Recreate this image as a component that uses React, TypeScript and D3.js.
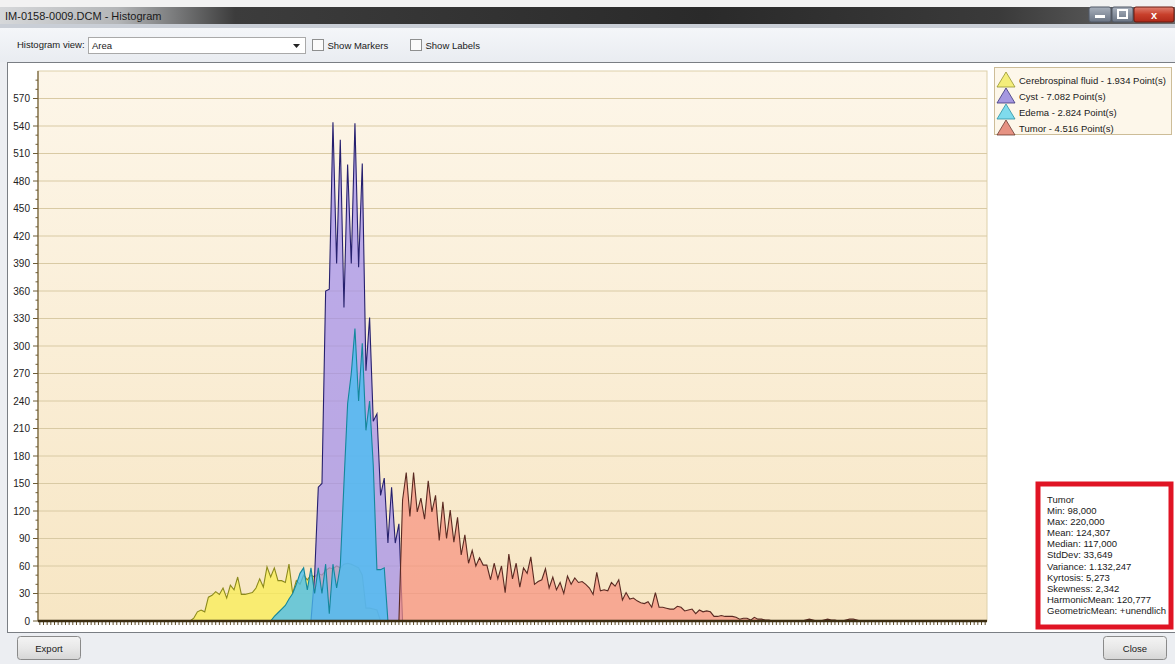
import React from "react";
import * as d3 from "d3";

// ---------- DATA ----------
const yTickValues = [0, 30, 60, 90, 120, 150, 180, 210, 240, 270, 300, 330, 360, 390, 420, 450, 480, 510, 540, 570];
const binCount = 259;

const csfStart = 41;
const csfValues = [0, 3, 10, 12, 10, 26, 28, 32, 29, 36, 25, 39, 34, 48, 29, 29, 30, 31, 36, 46, 37, 59, 48, 58, 44, 44, 42, 62, 30, 44, 40, 50, 45, 50, 48, 52, 50, 55, 58, 57, 60, 58, 62, 63, 62, 60, 58, 50, 14, 14, 13, 12, 0];

const cystStart = 74;
const cystValues = [0, 50, 146, 150, 360, 362, 544, 390, 525, 342, 498, 390, 543, 386, 499, 273, 331, 218, 226, 137, 156, 85, 146, 85, 106, 0];

const edemaStart = 63;
const edemaValues = [0, 5, 9, 13, 17, 24, 30, 40, 52, 58, 34, 58, 30, 58, 30, 62, 8, 62, 36, 60, 150, 237, 270, 319, 240, 303, 208, 240, 170, 56, 56, 58, 0];

const tumorStart = 98;
const tumorValues = [0, 132, 162, 114, 162, 119, 134, 111, 153, 119, 137, 88, 130, 90, 121, 86, 113, 72, 94, 63, 77, 60, 69, 61, 61, 45, 63, 46, 60, 31, 73, 46, 63, 37, 58, 52, 70, 40, 43, 45, 57, 36, 48, 34, 42, 30, 49, 40, 47, 42, 43, 40, 36, 29, 53, 33, 34, 33, 42, 38, 45, 23, 31, 24, 25, 22, 20, 19, 21, 15, 31, 15, 15, 14, 13, 13, 16, 15, 11, 12, 13, 8, 12, 10, 11, 10, 5, 5, 6, 5, 5, 5, 4, 2, 3, 3, 1, 4, 2, 2, 1, 1, 0, 0, 0, 0, 0, 0, 0, 0, 0, 1, 2, 1, 0, 0, 1, 2, 1, 1, 0, 0, 1, 2, 2, 1, 0];

const seriesNames = ["Cerebrospinal fluid", "Cyst", "Edema", "Tumor"];
const seriesPointCounts = ["1.934", "7.082", "2.824", "4.516"];

const statsTitle = "Tumor";
const statsLines = [
  "Min: 98,000",
  "Max: 220,000",
  "Mean: 124,307",
  "Median: 117,000",
  "StdDev: 33,649",
  "Variance: 1.132,247",
  "Kyrtosis: 5,273",
  "Skewness: 2,342",
  "HarmonicMean: 120,777",
  "GeometricMean: +unendlich",
];

const windowTitle = "IM-0158-0009.DCM - Histogram";
const viewLabel = "Histogram view:";
const viewValue = "Area";
const checkLabels = ["Show Markers", "Show Labels"];

// ---------- COMPONENT ----------
const FONT = "'Liberation Sans', Arial, sans-serif";

export default function App() {
  const W = 1175;
  const H = 664;
  const plot = { left: 38, top: 71, right: 987, bottom: 621 };

  const x = d3.scaleLinear().domain([-0.5, binCount - 0.5]).range([plot.left, plot.right]);
  const y = d3.scaleLinear().domain([0, 600]).range([plot.bottom, plot.top]);

  const styles = [
    { fill: "rgba(250,238,80,0.72)", stroke: "#8c8a1c", icon: "#f4ee70" },
    { fill: "rgba(160,140,236,0.70)", stroke: "#26206e", icon: "#9c8ee0" },
    { fill: "rgba(72,190,242,0.78)", stroke: "#14879c", icon: "#72d8ee" },
    { fill: "rgba(246,146,128,0.72)", stroke: "#5a2a22", icon: "#e48878" },
  ];
  const starts = [csfStart, cystStart, edemaStart, tumorStart];
  const values = [csfValues, cystValues, edemaValues, tumorValues];

  const area = d3
    .area<[number, number]>()
    .x((d) => x(d[0]))
    .y0(y(0))
    .y1((d) => y(d[1]));
  const line = d3
    .line<[number, number]>()
    .x((d) => x(d[0]))
    .y((d) => y(d[1]));

  const series = values.map((vals, i) => {
    const pts: [number, number][] = vals.map((v, j) => [starts[i] + j, v]);
    return { pts, ...styles[i], name: seriesNames[i], count: seriesPointCounts[i] };
  });

  const minorTicks = d3.range(0, 600, 10).filter((v) => v % 30 !== 0);
  const xTicks = d3.range(0, binCount);

  return (
    <svg
      width={W}
      height={H}
      style={{ position: "absolute", left: 0, top: 0, fontFamily: FONT }}
    >
      <defs>
        <linearGradient id="titleGrad" x1="0" x2="1" y1="0" y2="0">
          <stop offset="0" stopColor="#d6d8da" />
          <stop offset="0.1" stopColor="#b4b6b8" />
          <stop offset="0.2" stopColor="#3c3c3c" />
          <stop offset="0.6" stopColor="#2a2a2a" />
          <stop offset="0.85" stopColor="#3a3a3a" />
          <stop offset="1" stopColor="#6a6a6a" />
        </linearGradient>
        <linearGradient id="toolGrad" x1="0" x2="0" y1="0" y2="1">
          <stop offset="0" stopColor="#f4f6f9" />
          <stop offset="1" stopColor="#e9ecf1" />
        </linearGradient>
        <linearGradient id="plotBg" x1="0" x2="0" y1="0" y2="1">
          <stop offset="0" stopColor="#fdf6e9" />
          <stop offset="1" stopColor="#f7e6c4" />
        </linearGradient>
        <linearGradient id="btnGrad" x1="0" x2="0" y1="0" y2="1">
          <stop offset="0" stopColor="#f4f4f4" />
          <stop offset="0.5" stopColor="#e8e8e8" />
          <stop offset="1" stopColor="#d6d6d6" />
        </linearGradient>
        <linearGradient id="closeGrad" x1="0" x2="0" y1="0" y2="1">
          <stop offset="0" stopColor="#e08070" />
          <stop offset="0.5" stopColor="#c8402c" />
          <stop offset="1" stopColor="#b02818" />
        </linearGradient>
        <linearGradient id="wbtnGrad" x1="0" x2="0" y1="0" y2="1">
          <stop offset="0" stopColor="#a8b0bc" />
          <stop offset="1" stopColor="#6a7484" />
        </linearGradient>
      </defs>

      {/* window background */}
      <rect x={0} y={0} width={W} height={H} fill="#eceef2" />
      <rect x={0} y={0} width={W} height={7} fill="#f2f2f2" />
      {/* title bar */}
      <rect x={0} y={7} width={W} height={17} fill="url(#titleGrad)" />
      <rect x={0} y={24} width={W} height={4} fill="#c9ced6" />
      <text x={5} y={20} fontSize={11} fill="#1a1a1a" fontFamily={FONT}>
        {windowTitle}
      </text>
      {/* window buttons */}
      <rect x={1089} y={7} width={22} height={15} rx={2} fill="url(#wbtnGrad)" stroke="#505866" />
      <rect x={1095} y={15} width={10} height={3} fill="#fff" />
      <rect x={1112} y={7} width={21} height={15} rx={2} fill="url(#wbtnGrad)" stroke="#505866" />
      <rect x={1118} y={10} width={9} height={8} fill="none" stroke="#fff" strokeWidth={2} />
      <rect x={1134} y={7} width={40} height={15} rx={2} fill="url(#closeGrad)" stroke="#6a1a10" />
      <text x={1154} y={19} fontSize={11} fontWeight="bold" fill="#fff" textAnchor="middle">x</text>

      {/* toolbar */}
      <rect x={0} y={28} width={W} height={34} fill="url(#toolGrad)" />
      <text x={17} y={48} fontSize={9.5} fill="#1a1a1a">{viewLabel}</text>
      <rect x={88.5} y={37.5} width={217} height={16} fill="#fff" stroke="#a9a9a9" />
      <text x={92} y={48.5} fontSize={9.5} fill="#1a1a1a">{viewValue}</text>
      <path d="M293,44 L300,44 L296.5,48 Z" fill="#222" />
      {checkLabels.map((t, i) => {
        const cx = i === 0 ? 312.5 : 410.5;
        return (
          <g key={t}>
            <rect x={cx} y={39.5} width={11} height={11} fill="#fbfbfb" stroke="#8e8f8f" />
            <text x={cx + 15} y={48.5} fontSize={9.5} fill="#1a1a1a">{t}</text>
          </g>
        );
      })}

      {/* chart panel */}
      <rect x={7.5} y={62.5} width={1168} height={570} fill="#ffffff" stroke="#7a7e84" />

      {/* plot area */}
      <rect
        x={plot.left}
        y={plot.top}
        width={plot.right - plot.left}
        height={plot.bottom - plot.top}
        fill="url(#plotBg)"
        stroke="#ddd0aa"
      />
      {yTickValues.map((v) =>
        v === 0 ? null : (
          <line key={"g" + v} x1={plot.left} x2={plot.right} y1={y(v)} y2={y(v)} stroke="#d9caa4" strokeWidth={1} />
        )
      )}

      {/* series */}
      {series.map((s) => (
        <g key={s.name}>
          <path d={area(s.pts) || ""} fill={s.fill} />
          <path d={line(s.pts) || ""} fill="none" stroke={s.stroke} strokeWidth={1.1} strokeLinejoin="miter" />
        </g>
      ))}

      {/* y axis */}
      <line x1={plot.left} x2={plot.left} y1={plot.top} y2={plot.bottom} stroke="#6e5c34" strokeWidth={1.2} />
      {minorTicks.map((v) => (
        <line key={"m" + v} x1={plot.left - 2.5} x2={plot.left} y1={y(v)} y2={y(v)} stroke="#6e5c34" />
      ))}
      {yTickValues.map((v) => (
        <g key={"t" + v}>
          <line x1={plot.left - 5} x2={plot.left} y1={y(v)} y2={y(v)} stroke="#6e5c34" />
          <text x={plot.left - 8} y={y(v) + 3.5} fontSize={10} textAnchor="end" fill="#222">
            {v}
          </text>
        </g>
      ))}

      {/* x axis */}
      {xTicks.map((k) => (
        <line key={"x" + k} x1={x(k)} x2={x(k)} y1={plot.bottom} y2={plot.bottom + 4} stroke="#5e4c28" strokeWidth={1} />
      ))}
      <line x1={plot.left} x2={plot.right} y1={plot.bottom} y2={plot.bottom} stroke="#3a2c10" strokeWidth={2.5} />

      {/* legend */}
      <rect x={994.5} y={67.5} width={177} height={67} fill="#fdf7ea" stroke="#cdbd98" />
      {series.map((s, i) => {
        const cy = 80 + i * 16;
        return (
          <g key={"l" + s.name}>
            <path
              d={`M997,${cy + 7} L1006,${cy - 8} L1015,${cy + 7} Z`}
              fill={s.icon}
              stroke={s.stroke}
              strokeWidth={0.8}
              opacity={0.9}
            />
            <text x={1019} y={cy + 3.5} fontSize={9.5} fill="#1a1a1a">
              {`${s.name} - ${s.count} Point(s)`}
            </text>
          </g>
        );
      })}

      {/* stats box */}
      <rect x={1038} y={484} width={133} height={143} fill="#ffffff" stroke="#e01424" strokeWidth={5} />
      <text x={1047} y={503} fontSize={9.5} fill="#1a1a1a">{statsTitle}</text>
      {statsLines.map((t, i) => (
        <text key={t} x={1047} y={514 + i * 11.1} fontSize={9.5} fill="#1a1a1a">
          {t}
        </text>
      ))}

      {/* bottom bar */}
      <rect x={17.5} y={636.5} width={63} height={23} rx={3} fill="url(#btnGrad)" stroke="#8a8a8a" />
      <text x={49} y={651.5} fontSize={9.5} textAnchor="middle" fill="#1a1a1a">Export</text>
      <rect x={1103.5} y={636.5} width={63} height={23} rx={3} fill="url(#btnGrad)" stroke="#8a8a8a" />
      <text x={1135} y={651.5} fontSize={9.5} textAnchor="middle" fill="#1a1a1a">Close</text>
    </svg>
  );
}
